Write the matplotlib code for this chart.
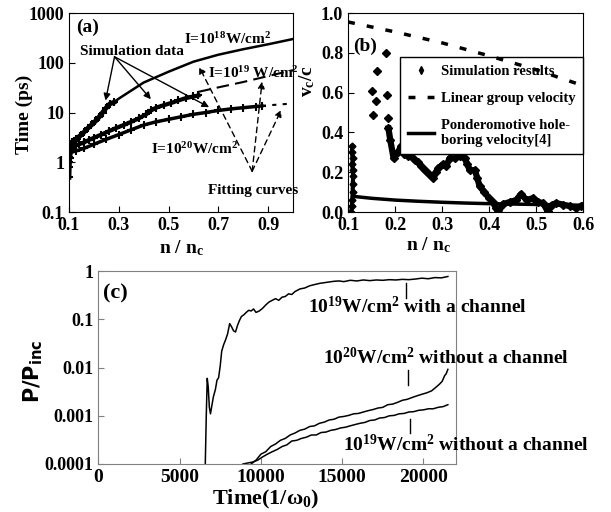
import matplotlib
matplotlib.use("Agg")
import matplotlib.pyplot as plt
from matplotlib.ticker import NullLocator

plt.rcParams["font.family"] = ["Liberation Serif", "DejaVu Serif"]
plt.rcParams["font.weight"] = "bold"
plt.rcParams["axes.labelweight"] = "bold"
plt.rcParams["mathtext.fontset"] = "custom"
plt.rcParams["mathtext.rm"] = "Liberation Serif:bold"
plt.rcParams["mathtext.it"] = "Liberation Serif:bold"
plt.rcParams["mathtext.bf"] = "Liberation Serif:bold"
plt.rcParams["mathtext.sf"] = "DejaVu Sans:bold"
plt.rcParams["mathtext.default"] = "rm"

# ---- panel (a): breakthrough time vs density ----
sim18_n = [0.100, 0.101, 0.103, 0.105, 0.108, 0.112, 0.120, 0.130, 0.145, 0.160,
           0.175, 0.190, 0.205, 0.220, 0.235, 0.250, 0.265, 0.280]
sim18_t = [0.5, 0.8, 1.2, 1.6, 2.1, 2.5, 2.7, 3.0, 3.4, 4.0,
           4.8, 5.6, 6.6, 8.0, 10.0, 12.5, 15.0, 16.0]
sim19_n = [0.100, 0.105, 0.110, 0.120, 0.140, 0.160, 0.180, 0.200, 0.230, 0.260,
           0.290, 0.320, 0.350, 0.380, 0.410, 0.430, 0.450, 0.480, 0.510, 0.540,
           0.570, 0.600, 0.620]
sim19_t = [1.0, 1.6, 2.0, 2.1, 2.3, 2.5, 2.8, 3.1, 3.6, 4.2,
           4.9, 5.6, 6.5, 7.6, 9.2, 11.0, 12.5, 14.0, 15.5, 17.5,
           19.5, 21.0, 22.0]
sim20_n = [0.100, 0.110, 0.130, 0.160, 0.200, 0.250, 0.300, 0.350, 0.400, 0.450,
           0.500, 0.550, 0.600, 0.650, 0.700, 0.750, 0.800, 0.850, 0.875]
sim20_t = [1.3, 1.6, 1.7, 1.9, 2.3, 2.9, 3.6, 4.5, 5.6, 6.5,
           7.3, 8.2, 9.2, 10.0, 11.0, 11.8, 12.5, 13.2, 13.6]
fit18_n = [0.28, 0.30, 0.40, 0.50, 0.60, 0.70, 0.80, 0.90, 1.00]
fit18_t = [16, 19, 40, 66, 105, 145, 187, 235, 300]
fit19_n = [0.62, 0.70, 0.80, 0.90, 1.00]
fit19_t = [26, 32, 41, 54, 71]
fit20_n = [0.875, 0.93, 1.00]
fit20_t = [13.6, 14.3, 15.2]

# ---- panel (b): velocity vs density ----
spike_n = [0.107, 0.108, 0.109, 0.110, 0.110, 0.111, 0.110, 0.109, 0.110, 0.108, 0.109]
spike_v = [0.00, 0.03, 0.06, 0.10, 0.14, 0.18, 0.21, 0.24, 0.27, 0.30, 0.33]
scat_n = [0.152, 0.154, 0.159, 0.162, 0.180, 0.183, 0.185]
scat_v = [0.61, 0.49, 0.56, 0.71, 0.80, 0.59, 0.47]
trail_n = [0.186, 0.190, 0.197, 0.206, 0.213, 0.220, 0.228, 0.235, 0.242, 0.249,
           0.256, 0.263, 0.272, 0.281, 0.287, 0.292, 0.302, 0.309, 0.316, 0.327,
           0.338, 0.348, 0.354, 0.359, 0.370, 0.375, 0.380, 0.390, 0.400, 0.408,
           0.415, 0.420, 0.430, 0.444, 0.458, 0.468, 0.480, 0.494, 0.504, 0.515,
           0.525, 0.533, 0.543, 0.557, 0.572, 0.586, 0.596]
trail_v = [0.42, 0.36, 0.27, 0.30, 0.33, 0.29, 0.28, 0.28, 0.26, 0.25,
           0.23, 0.21, 0.19, 0.17, 0.20, 0.22, 0.24, 0.23, 0.27, 0.27,
           0.28, 0.27, 0.24, 0.21, 0.21, 0.17, 0.13, 0.10, 0.07, 0.05,
           0.02, 0.00, 0.04, 0.05, 0.06, 0.09, 0.06, 0.07, 0.05, 0.045,
           0.003, 0.034, 0.045, 0.037, 0.03, 0.02, 0.03]
gv_n = [0.10, 0.20, 0.30, 0.40, 0.50, 0.60]
gv_v = [0.955, 0.905, 0.85, 0.785, 0.715, 0.635]
pv_n = [0.11, 0.15, 0.20, 0.25, 0.30, 0.35, 0.40, 0.45, 0.50, 0.55, 0.60]
pv_v = [0.079, 0.069, 0.060, 0.054, 0.049, 0.045, 0.042, 0.040, 0.038, 0.036, 0.034]

# ---- panel (c): transmitted power vs time ----
ch19_t = [6580, 6640, 6700, 6760, 6830, 6900, 6980, 7080, 7200, 7300,
          7400, 7500, 7590, 7710, 7830, 7950, 8080, 8200, 8320, 8440,
          8560, 8680, 8800, 8950, 9100, 9250, 9400, 9550, 9700, 9900,
          10100, 10300, 10500, 10700, 10900, 11100, 11300, 11500, 11700, 11900,
          12100, 12400, 12700, 13000, 13300, 13600, 13900, 14200, 14500, 14800,
          15100, 15500, 15900, 16300, 16700, 17100, 17500, 17900, 18300, 18700,
          19100, 19500, 19900, 20300, 20700, 21100, 21500]
ch19_p = [0.0001, 0.001, 0.006, 0.004, 0.0015, 0.0011, 0.0016, 0.0025, 0.0035, 0.0055,
          0.0062, 0.011, 0.022, 0.03, 0.038, 0.05, 0.082, 0.07, 0.058, 0.055,
          0.075, 0.095, 0.115, 0.125, 0.14, 0.155, 0.15, 0.165, 0.14, 0.15,
          0.17, 0.20, 0.23, 0.25, 0.27, 0.25, 0.29, 0.30, 0.34, 0.33,
          0.38, 0.43, 0.45, 0.50, 0.53, 0.56, 0.58, 0.60, 0.62, 0.63,
          0.61, 0.65, 0.63, 0.66, 0.64, 0.66, 0.65, 0.67, 0.66, 0.68,
          0.67, 0.69, 0.72, 0.70, 0.74, 0.73, 0.78]
c20_t = [9400, 9700, 10000, 10300, 10600, 10900, 11200, 11500, 11800, 12100,
         12400, 12700, 13000, 13300, 13600, 13900, 14200, 14500, 14800, 15100,
         15400, 15700, 16000, 16300, 16600, 16900, 17200, 17500, 17800, 18100,
         18400, 18700, 19000, 19300, 19600, 19900, 20200, 20500, 20800, 21000,
         21150, 21300, 21400, 21500]
c20_p = [0.0001, 0.00012, 0.00016, 0.00018, 0.00023, 0.00026, 0.00031, 0.00034, 0.0004, 0.00044,
         0.0005, 0.00053, 0.0006, 0.00062, 0.0007, 0.00074, 0.00082, 0.00085, 0.00094, 0.00097,
         0.00102, 0.0011, 0.00112, 0.0012, 0.00128, 0.00135, 0.00145, 0.0015, 0.0017, 0.00175,
         0.0019, 0.0021, 0.0022, 0.0024, 0.0026, 0.0028, 0.0030, 0.0033, 0.0040, 0.0046,
         0.0052, 0.0068, 0.0075, 0.0092]
c19_t = [8900, 9200, 9500, 9800, 10100, 10400, 10700, 11000, 11300, 11600,
         11900, 12200, 12500, 12800, 13100, 13400, 13700, 14000, 14300, 14600,
         14900, 15200, 15500, 15800, 16100, 16400, 16700, 17000, 17300, 17600,
         17900, 18200, 18500, 18800, 19100, 19400, 19700, 20000, 20300, 20600,
         20900, 21200, 21500]
c19_p = [0.0001, 0.000105, 0.00011, 0.00012, 0.00014, 0.00016, 0.00018, 0.0002, 0.00023, 0.00025,
         0.0003, 0.00031, 0.00034, 0.00036, 0.0004, 0.0004, 0.00045, 0.00046, 0.0005, 0.00052,
         0.00056, 0.00058, 0.00062, 0.00066, 0.0007, 0.00073, 0.0008, 0.00082, 0.0009, 0.00092,
         0.001, 0.00102, 0.0011, 0.00112, 0.0012, 0.00122, 0.0013, 0.00133, 0.0014, 0.0014,
         0.0015, 0.00155, 0.0017]


def bold_ticks(axis):
    for lab in axis.get_xticklabels() + axis.get_yticklabels():
        lab.set_fontweight("bold")


fig = plt.figure(figsize=(6.11, 5.12), dpi=100)

# ================= (a) =================
ax = fig.add_axes([0.1129, 0.5859, 0.3666, 0.3887])
ax.set_yscale("log")
for n, t, lw in [(sim18_n, sim18_t, 3.5), (sim19_n, sim19_t, 3.0), (sim20_n, sim20_t, 2.5)]:
    ax.plot(n, t, color="black", lw=lw, marker="+", ms=6, mew=1.5)
ax.plot(fit18_n, fit18_t, color="black", lw=1.8)
ax.plot(fit19_n, fit19_t, color="black", lw=1.5, dashes=(6, 3))
ax.plot(fit20_n, fit20_t, color="black", lw=1.5, dashes=(2, 3))

for tx, ty in [(0.247, 17.4), (0.429, 18.5), (0.663, 12.8)]:
    ax.annotate("", xy=(tx, ty), xytext=(0.283, 132),
                arrowprops=dict(arrowstyle="-|>", color="black", lw=1.0,
                                mutation_scale=10, shrinkA=0, shrinkB=0))
for tx, ty in [(0.623, 83), (0.876, 42), (0.953, 11.3)]:
    ax.annotate("", xy=(tx, ty), xytext=(0.836, 0.66),
                arrowprops=dict(arrowstyle="-|>", color="black", lw=1.0, ls=(0, (4, 3)),
                                mutation_scale=10, shrinkA=0, shrinkB=0))

ax.text(0.127, 417, "(a)", fontsize=14, va="baseline")
ax.text(0.143, 142, "Simulation data", fontsize=11, va="baseline")
ax.text(0.563, 240, r"I=10$^{18}$W/cm$^2$", fontsize=11, va="baseline")
ax.text(0.66, 49, r"I=10$^{19}$ W/cm$^2$", fontsize=11, va="baseline")
ax.text(0.429, 1.49, r"I=10$^{20}$W/cm$^2$", fontsize=11, va="baseline")
ax.text(0.66, 0.225, "Fitting curves", fontsize=11, va="baseline")

ax.set_xlim(0.1, 1.0)
ax.set_ylim(0.1, 1000)
ax.set_xticks([0.1, 0.3, 0.5, 0.7, 0.9])
ax.set_xticklabels(["0.1", "0.3", "0.5", "0.7", "0.9"])
ax.set_yticks([0.1, 1, 10, 100, 1000])
ax.set_yticklabels(["0.1", "1", "10", "100", "1000"])
ax.yaxis.set_minor_locator(NullLocator())
ax.tick_params(direction="in", length=4, labelsize=13)
bold_ticks(ax)
ax.set_ylabel("Time (ps)", fontsize=14)
ax.yaxis.set_label_coords(-0.16, 0.49)
ax.set_xlabel(r"n / n$_c$", fontsize=14, labelpad=3)

# ================= (b) =================
bx = fig.add_axes([0.5696, 0.5859, 0.3846, 0.3887])
bx.plot(spike_n, spike_v, color="black", lw=3, marker="D", ms=3.5)
bx.plot(scat_n, scat_v, ls="none", color="black", marker="D", ms=4)
bx.plot(trail_n, trail_v, color="black", lw=4.5, marker="D", ms=4)
bx.plot([], [], ls="none", color="black", marker="d", ms=4, label="Simulation results")
bx.plot(gv_n, gv_v, color="black", lw=2.5, dashes=(2, 3.5), zorder=6,
        label="Linear group velocity")
bx.plot(pv_n, pv_v, color="black", lw=2.5,
        label="Ponderomotive hole-\nboring velocity[4]")
leg = bx.legend(loc="upper right", bbox_to_anchor=(1.0, 0.777), borderaxespad=0,
                fancybox=False, edgecolor="black", framealpha=1,
                prop={"size": 10.5, "weight": "bold"},
                handlelength=1.8, labelspacing=0.95, borderpad=0.5, handletextpad=0.5)
leg.get_frame().set_linewidth(1.0)
leg.set_zorder(5)
bx.text(0.111, 0.81, "(b)", fontsize=14, va="baseline")
bx.set_xlim(0.1, 0.6)
bx.set_ylim(0, 1.0)
bx.set_xticks([0.1, 0.2, 0.3, 0.4, 0.5, 0.6])
bx.set_xticklabels(["0.1", "0.2", "0.3", "0.4", "0.5", "0.6"])
bx.set_yticks([0.0, 0.2, 0.4, 0.6, 0.8, 1.0])
bx.set_yticklabels(["0.0", "0.2", "0.4", "0.6", "0.8", "1.0"])
bx.tick_params(direction="in", length=4, labelsize=13)
bold_ticks(bx)
bx.set_ylabel(r"v$_c$/c", fontsize=14)
bx.yaxis.set_label_coords(-0.13, 0.66)
bx.set_xlabel(r"n / n$_c$", fontsize=14)
bx.xaxis.set_label_coords(0.34, -0.115)

# ================= (c) =================
cx = fig.add_axes([0.1609, 0.09375, 0.5854, 0.3764])
cx.set_yscale("log")
cx.plot(ch19_t, ch19_p, color="black", lw=1.1)
cx.plot(c20_t, c20_p, color="black", lw=1.1)
cx.plot(c19_t, c19_p, color="black", lw=1.1)
cx.text(12923, 0.184, r"10$^{19}$W/cm$^2$ with a channel", fontsize=14, va="center")
cx.plot([18917, 18917], [0.56, 0.275], color="black", lw=1)
cx.text(13808, 0.0163, r"10$^{20}$W/cm$^2$ without a channel", fontsize=14, va="center")
cx.plot([19040, 19040], [0.0089, 0.0044], color="black", lw=1)
cx.text(15077, 0.00026, r"10$^{19}$W/cm$^2$ without a channel", fontsize=14, va="center")
cx.plot([19180, 19180], [0.00084, 0.00043], color="black", lw=1)
cx.text(290, 0.34, "(c)", fontsize=16, va="center")
cx.set_xlim(0, 22000)
cx.set_ylim(0.0001, 1)
cx.set_xticks([0, 5000, 10000, 15000, 20000])
cx.set_xticklabels(["0", "5000", "10000", "15000", "20000"])
cx.set_yticks([0.0001, 0.001, 0.01, 0.1, 1])
cx.set_yticklabels(["0.0001", "0.001", "0.01", "0.1", "1"])
cx.yaxis.set_minor_locator(NullLocator())
cx.tick_params(direction="in", length=4, labelsize=14, color="gray")
cx.tick_params(axis="y", labelsize=13)
bold_ticks(cx)
for s in cx.spines.values():
    s.set_color("gray")
cx.set_ylabel(r"$\mathsf{P/P_{inc}}$", fontsize=15)
cx.yaxis.set_label_coords(-0.15, 0.48)
cx.set_xlabel(r"Time(1/ω$_0$)", fontsize=16)
cx.xaxis.set_label_coords(0.468, -0.125)

fig.savefig("out.png", dpi=100)
